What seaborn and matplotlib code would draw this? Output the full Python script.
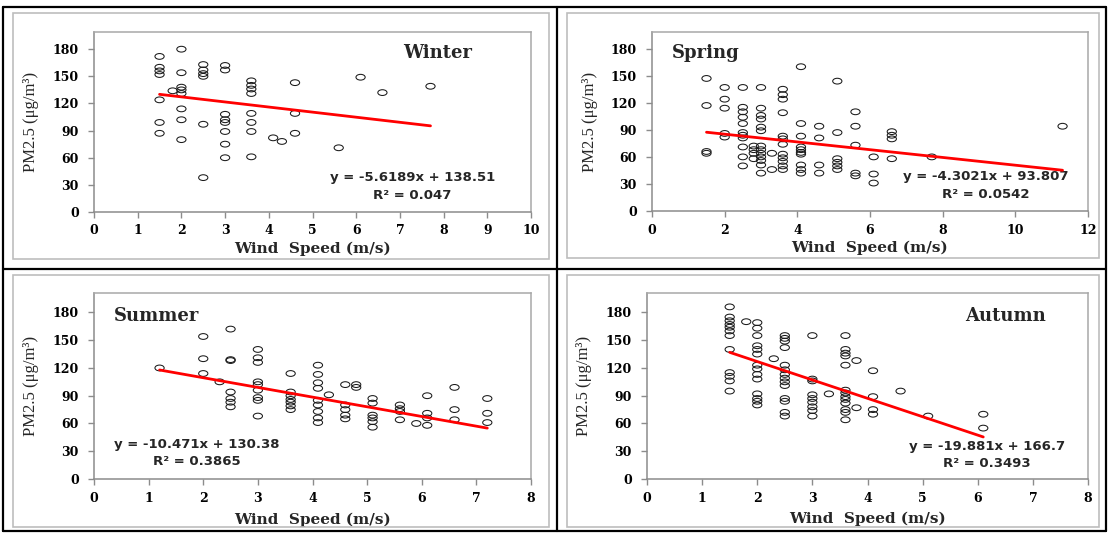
import numpy as np
import matplotlib.pyplot as plt
import seaborn as sns
from matplotlib.path import Path
from matplotlib.transforms import Affine2D
from matplotlib.lines import Line2D
from matplotlib.patches import Rectangle

# ---- data ----
winter_speed = [1.5, 1.5, 1.5, 1.5, 1.5, 1.5, 1.5, 1.8,
                2.0, 2.0, 2.0, 2.0, 2.0, 2.0, 2.0, 2.0,
                2.5, 2.5, 2.5, 2.5, 2.5, 2.5,
                3.0, 3.0, 3.0, 3.0, 3.0, 3.0, 3.0, 3.0,
                3.6, 3.6, 3.6, 3.6, 3.6, 3.6, 3.6, 3.6,
                4.1, 4.3, 4.6, 4.6, 4.6, 5.6, 6.1, 6.6, 7.7]
winter_pm = [172, 160, 156, 152, 124, 99, 87, 134,
             180, 154, 138, 135, 131, 114, 102, 80,
             163, 157, 153, 150, 97, 38,
             162, 157, 108, 102, 99, 89, 75, 60,
             145, 140, 136, 131, 109, 99, 89, 61,
             82, 78, 143, 109, 87, 71, 149, 132, 139]

spring_speed = [1.5, 1.5, 1.5, 1.5,
                2.0, 2.0, 2.0, 2.0, 2.0,
                2.5, 2.5, 2.5, 2.5, 2.5, 2.5, 2.5, 2.5, 2.5, 2.5, 2.5,
                2.8, 2.8, 2.8, 2.8,
                3.0, 3.0, 3.0, 3.0, 3.0, 3.0, 3.0, 3.0, 3.0, 3.0, 3.0, 3.0, 3.0,
                3.3, 3.3,
                3.6, 3.6, 3.6, 3.6, 3.6, 3.6, 3.6, 3.6, 3.6, 3.6, 3.6, 3.6,
                4.1, 4.1, 4.1, 4.1, 4.1, 4.1, 4.1, 4.1, 4.1, 4.1,
                4.6, 4.6, 4.6, 4.6,
                5.1, 5.1, 5.1, 5.1, 5.1, 5.1,
                5.6, 5.6, 5.6, 5.6, 5.6,
                6.1, 6.1, 6.1,
                6.6, 6.6, 6.6, 6.6,
                7.7, 11.3]
spring_pm = [147, 117, 66, 64,
             137, 124, 114, 86, 82,
             137, 115, 110, 104, 97, 87, 84, 81, 71, 60, 50,
             72, 68, 64, 58,
             137, 114, 106, 102, 93, 89, 72, 68, 64, 60, 56, 51, 42,
             64, 46,
             135, 129, 124, 109, 83, 80, 74, 63, 59, 55, 50, 46,
             160, 97, 83, 71, 68, 65, 63, 51, 46, 42,
             94, 81, 51, 42,
             144, 87, 58, 54, 50, 46,
             110, 94, 73, 42, 39,
             60, 41, 31,
             88, 84, 80, 58,
             60, 94]

summer_speed = [1.2, 2.0, 2.0, 2.0, 2.3,
                2.5, 2.5, 2.5, 2.5, 2.5, 2.5, 2.5,
                3.0, 3.0, 3.0, 3.0, 3.0, 3.0, 3.0, 3.0, 3.0,
                3.6, 3.6, 3.6, 3.6, 3.6, 3.6, 3.6,
                4.1, 4.1, 4.1, 4.1, 4.1, 4.1, 4.1, 4.1, 4.1,
                4.3, 4.6, 4.6, 4.6, 4.6, 4.6, 4.8, 4.8,
                5.1, 5.1, 5.1, 5.1, 5.1, 5.1,
                5.6, 5.6, 5.6, 5.6, 5.9,
                6.1, 6.1, 6.1, 6.1,
                6.6, 6.6, 6.6, 7.2, 7.2, 7.2]
summer_pm = [120, 154, 130, 114, 105,
             162, 129, 128, 94, 87, 83, 78,
             140, 131, 126, 105, 102, 96, 88, 85, 68,
             114, 94, 90, 86, 83, 79, 75,
             123, 113, 104, 98, 85, 80, 73, 66, 61,
             91, 102, 80, 75, 69, 65, 102, 99,
             87, 82, 69, 66, 62, 56,
             80, 76, 73, 64, 60,
             90, 71, 66, 58,
             99, 75, 64, 87, 71, 61]

autumn_speed = [1.5, 1.5, 1.5, 1.5, 1.5, 1.5, 1.5, 1.5, 1.5, 1.5, 1.5, 1.5,
                1.8,
                2.0, 2.0, 2.0, 2.0, 2.0, 2.0, 2.0, 2.0, 2.0, 2.0, 2.0, 2.0, 2.0, 2.0,
                2.3,
                2.5, 2.5, 2.5, 2.5, 2.5, 2.5, 2.5, 2.5, 2.5, 2.5, 2.5, 2.5, 2.5, 2.5,
                3.0, 3.0, 3.0, 3.0, 3.0, 3.0, 3.0, 3.0, 3.0,
                3.3,
                3.6, 3.6, 3.6, 3.6, 3.6, 3.6, 3.6, 3.6, 3.6, 3.6, 3.6, 3.6, 3.6,
                3.8, 3.8, 4.1, 4.1, 4.1, 4.1, 4.6, 5.1, 6.1, 6.1]
autumn_pm = [186, 175, 171, 167, 164, 160, 155, 140, 115, 111, 106, 95,
             170,
             169, 163, 155, 144, 140, 135, 123, 119, 113, 108, 92, 87, 84, 80,
             130,
             155, 152, 149, 142, 123, 118, 113, 109, 105, 101, 87, 84, 72, 68,
             155, 108, 106, 91, 87, 83, 78, 74, 68,
             92,
             155, 140, 136, 133, 123, 96, 93, 89, 86, 82, 75, 72, 64,
             128, 77, 117, 89, 75, 70, 95, 68, 70, 55]

seasons = ['Winter', 'Spring', 'Summer', 'Autumn']
slopes = [-5.6189, -4.3021, -10.471, -19.881]
intercepts = [138.51, 93.807, 130.38, 166.7]
eq_labels = ['y = -5.6189x + 138.51', 'y = -4.3021x + 93.807',
             'y = -10.471x + 130.38', 'y = -19.881x + 166.7']
r2_labels = ['R² = 0.047', 'R² = 0.0542', 'R² = 0.3865', 'R² = 0.3493']
x_ticks = [list(range(0, 11)), list(range(0, 13, 2)),
           list(range(0, 9)), list(range(0, 9))]
y_ticks = [0, 30, 60, 90, 120, 150, 180]

speeds = [winter_speed, spring_speed, summer_speed, autumn_speed]
pms = [winter_pm, spring_pm, summer_pm, autumn_pm]

# ---- layout (pixel boxes of the reference) ----
W, H = 1109, 533
def fx(px):
    return px / W
def fy(py):
    return 1 - py / H

# left, top, right, bottom of each plot area in pixels
plot_px = [(94, 32, 531, 212), (652, 32, 1088, 211),
           (94, 293, 531, 479), (647, 293, 1088, 479)]
y_top = [199, 198.5, 201, 201]
title_pos = [(0.787, 0.883), (0.124, 0.883), (0.144, 0.876), (0.814, 0.876)]
eq_pos = [(0.728, 0.19, 0.094), (0.766, 0.19, 0.094),
          (0.236, 0.187, 0.095), (0.771, 0.176, 0.085)]
ylab_x = [-0.125, -0.125, -0.125, -0.125]
xlab_y = [-0.165, -0.166, -0.183, -0.173]

sns.set_theme(style='white')
plt.rcParams['font.family'] = ['DejaVu Serif', 'DejaVu Sans']
plt.rcParams['font.weight'] = 'bold'

fig = plt.figure(figsize=(W / 100, H / 100), dpi=100)

# wide, flat open circles like in the stretched original
ellipse = Path.unit_circle().transformed(Affine2D().scale(1.6, 1.0))

# grey chart-area boxes
for (x0, y0, x1, y1) in [(13, 13, 549, 259), (567, 13, 1099, 258),
                         (13, 275, 549, 527), (567, 275, 1099, 527)]:
    fig.add_artist(Rectangle((fx(x0), fy(y1)), fx(x1 - x0), (y1 - y0) / H,
                             transform=fig.transFigure, fill=False,
                             edgecolor='#bdbdbd', linewidth=1.2))

# black frame and dividers
for xs, ys in [((3, 1106), (7, 7)), ((3, 1106), (531, 531)),
               ((3, 3), (7, 531)), ((1106, 1106), (7, 531)),
               ((557, 557), (7, 531)), ((3, 1106), (269, 269))]:
    fig.add_artist(Line2D([fx(v) for v in xs], [fy(v) for v in ys],
                          transform=fig.transFigure, color='black', linewidth=1.6))

for i, season in enumerate(seasons):
    l, t, r, b = plot_px[i]
    ax = fig.add_axes([fx(l), fy(b), fx(r - l), (b - t) / H])
    sns.scatterplot(x=speeds[i], y=pms[i], ax=ax, marker=ellipse, s=44,
                    facecolor='none', edgecolor='#1a1a1a', linewidth=0.75, zorder=3)
    xs = np.array([min(speeds[i]), max(speeds[i])])
    sns.lineplot(x=xs, y=slopes[i] * xs + intercepts[i], ax=ax,
                 color='red', linewidth=2, zorder=4)

    ax.set_xlim(x_ticks[i][0], x_ticks[i][-1])
    ax.set_ylim(0, y_top[i])
    ax.set_xticks(x_ticks[i])
    ax.set_yticks(y_ticks)
    ax.tick_params(axis='both', which='both', bottom=True, left=True,
                   direction='out', length=4, width=1, color='#8c8c8c',
                   labelsize=9, labelcolor='black')
    ax.tick_params(axis='x', pad=5)
    ax.tick_params(axis='y', pad=7)
    for sp in ax.spines.values():
        sp.set_color('#a8a8a8')
        sp.set_linewidth(1.1)
    ax.spines['bottom'].set_color('#8c8c8c')
    ax.spines['left'].set_color('#8c8c8c')

    ax.set_xlabel('Wind  Speed (m/s)', fontsize=11, fontweight='bold')
    ax.xaxis.set_label_coords(0.5, xlab_y[i])
    ax.set_ylabel('PM2.5 (μg/m³)', fontsize=12, fontweight='normal',
                  family=['Liberation Serif', 'DejaVu Serif'])
    ax.yaxis.set_label_coords(ylab_x[i], 0.5)

    tx, ty = title_pos[i]
    ax.text(tx, ty, season, transform=ax.transAxes, ha='center', va='center',
            fontsize=13, fontweight='bold')
    ex, ey, ry = eq_pos[i]
    ax.text(ex, ey, eq_labels[i], transform=ax.transAxes, ha='center',
            va='center', fontsize=9.5, fontweight='bold', family=['DejaVu Sans'])
    ax.text(ex, ry, r2_labels[i], transform=ax.transAxes, ha='center',
            va='center', fontsize=9.5, fontweight='bold', family=['DejaVu Sans'])

fig.savefig('out.png', dpi=100)
